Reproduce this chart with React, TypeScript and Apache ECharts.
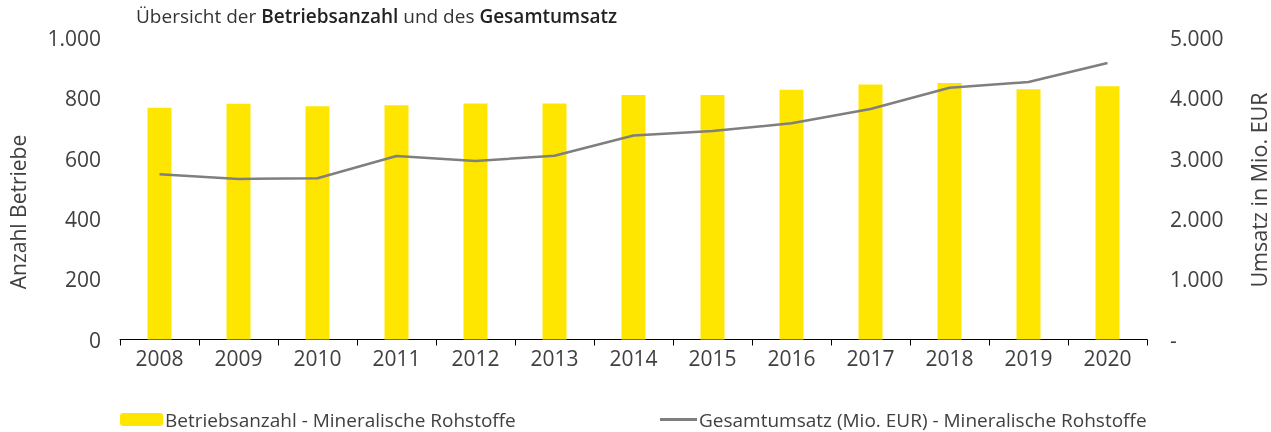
import React, { useEffect, useRef } from "react";
import * as echarts from "echarts";

const years = ["2008", "2009", "2010", "2011", "2012", "2013", "2014", "2015", "2016", "2017", "2018", "2019", "2020"];
const betriebsanzahl = [769, 782, 774, 777, 783, 783, 811, 811, 828, 846, 851, 830, 840];
const gesamtumsatz = [2740, 2662, 2673, 3043, 2960, 3048, 3384, 3458, 3585, 3823, 4176, 4270, 4585];
const barName = "Betriebsanzahl - Mineralische Rohstoffe";
const lineName = "Gesamtumsatz (Mio. EUR) - Mineralische Rohstoffe";
const leftAxisName = "Anzahl Betriebe";
const rightAxisName = "Umsatz in Mio. EUR";

const FONT = "Open Sans";
const TXT = "#404040";

const fmt = (v: number) => {
  const s = String(Math.round(v));
  return s.replace(/\B(?=(\d{3})+(?!\d))/g, ".");
};

export default function App() {
  const ref = useRef<HTMLDivElement>(null);
  useEffect(() => {
    if (!ref.current) return;
    const chart = echarts.init(ref.current, undefined, { renderer: "svg" });
    chart.setOption({
      animation: false,
      textStyle: { fontFamily: FONT },
      title: {
        left: 136,
        top: 6,
        padding: 0,
        text: "{n|Übersicht der }{b|Betriebsanzahl}{n| und des }{b|Gesamtumsatz}",
        textStyle: {
          rich: {
            n: { fontFamily: FONT, fontSize: 19, color: "#333", fontWeight: "normal" },
            b: { fontFamily: FONT, fontSize: 19, color: "#222", fontWeight: 600 },
          },
        },
      },
      legend: [
        {
          data: [barName],
          left: 120,
          top: 410,
          padding: 0,
          itemWidth: 43,
          itemHeight: 13,
          itemGap: 0,
          textStyle: { fontFamily: FONT, fontSize: 19, color: TXT, padding: [0, 0, 0, -3] },
        },
        {
          data: [{ name: lineName, icon: "rect", itemStyle: { color: "#7F7F7F" } }],
          left: 660,
          top: 410,
          padding: 0,
          itemWidth: 37,
          itemHeight: 3,
          textStyle: { fontFamily: FONT, fontSize: 19, color: TXT, padding: [0, 0, 0, -3] },
        },
      ],
      grid: {
        left: 120,
        right: 124,
        top: 38,
        bottom: 92.5,
        containLabel: false,
        outerBoundsMode: "none",
      },
      xAxis: {
        type: "category",
        data: years,
        boundaryGap: true,
        axisLine: { lineStyle: { color: "#000", width: 1 } },
        axisTick: { show: true, length: 6, lineStyle: { color: "#000" } },
        axisLabel: { fontFamily: FONT, fontSize: 21, color: TXT, margin: 8 },
      },
      yAxis: [
        {
          type: "value",
          min: 0,
          max: 1000,
          interval: 200,
          splitLine: { show: false },
          axisLine: { show: false },
          axisTick: { show: false },
          axisLabel: {
            fontFamily: FONT,
            fontSize: 21,
            color: TXT,
            margin: 19,
            formatter: (v: number) => fmt(v),
          },
        },
        {
          type: "value",
          min: 0,
          max: 5000,
          interval: 1000,
          position: "right",
          splitLine: { show: false },
          axisLine: { show: false },
          axisTick: { show: false },
          axisLabel: {
            fontFamily: FONT,
            fontSize: 21,
            color: TXT,
            margin: 23,
            formatter: (v: number) => (v === 0 ? "-" : fmt(v)),
          },
        },
      ],
      graphic: [
        {
          type: "text",
          x: 18,
          y: 212,
          rotation: Math.PI / 2,
          style: {
            text: leftAxisName,
            fontFamily: FONT,
            fontSize: 21,
            fill: TXT,
            align: "center",
            verticalAlign: "middle",
          },
        },
        {
          type: "text",
          x: 1258,
          y: 190,
          rotation: Math.PI / 2,
          style: {
            text: rightAxisName,
            fontFamily: FONT,
            fontSize: 21.5,
            fill: TXT,
            align: "center",
            verticalAlign: "middle",
          },
        },
      ],
      series: [
        {
          name: barName,
          type: "bar",
          data: betriebsanzahl,
          yAxisIndex: 0,
          barWidth: 24,
          itemStyle: { color: "#FFE600" },
        },
        {
          name: lineName,
          type: "line",
          data: gesamtumsatz,
          yAxisIndex: 1,
          symbol: "none",
          lineStyle: { color: "#7F7F7F", width: 2.5 },
          itemStyle: { color: "#7F7F7F" },
        },
      ],
    });
    return () => chart.dispose();
  }, []);
  return (
    <div
      ref={ref}
      style={{ position: "fixed", left: 0, top: 0, width: 1271, height: 432 }}
    />
  );
}
